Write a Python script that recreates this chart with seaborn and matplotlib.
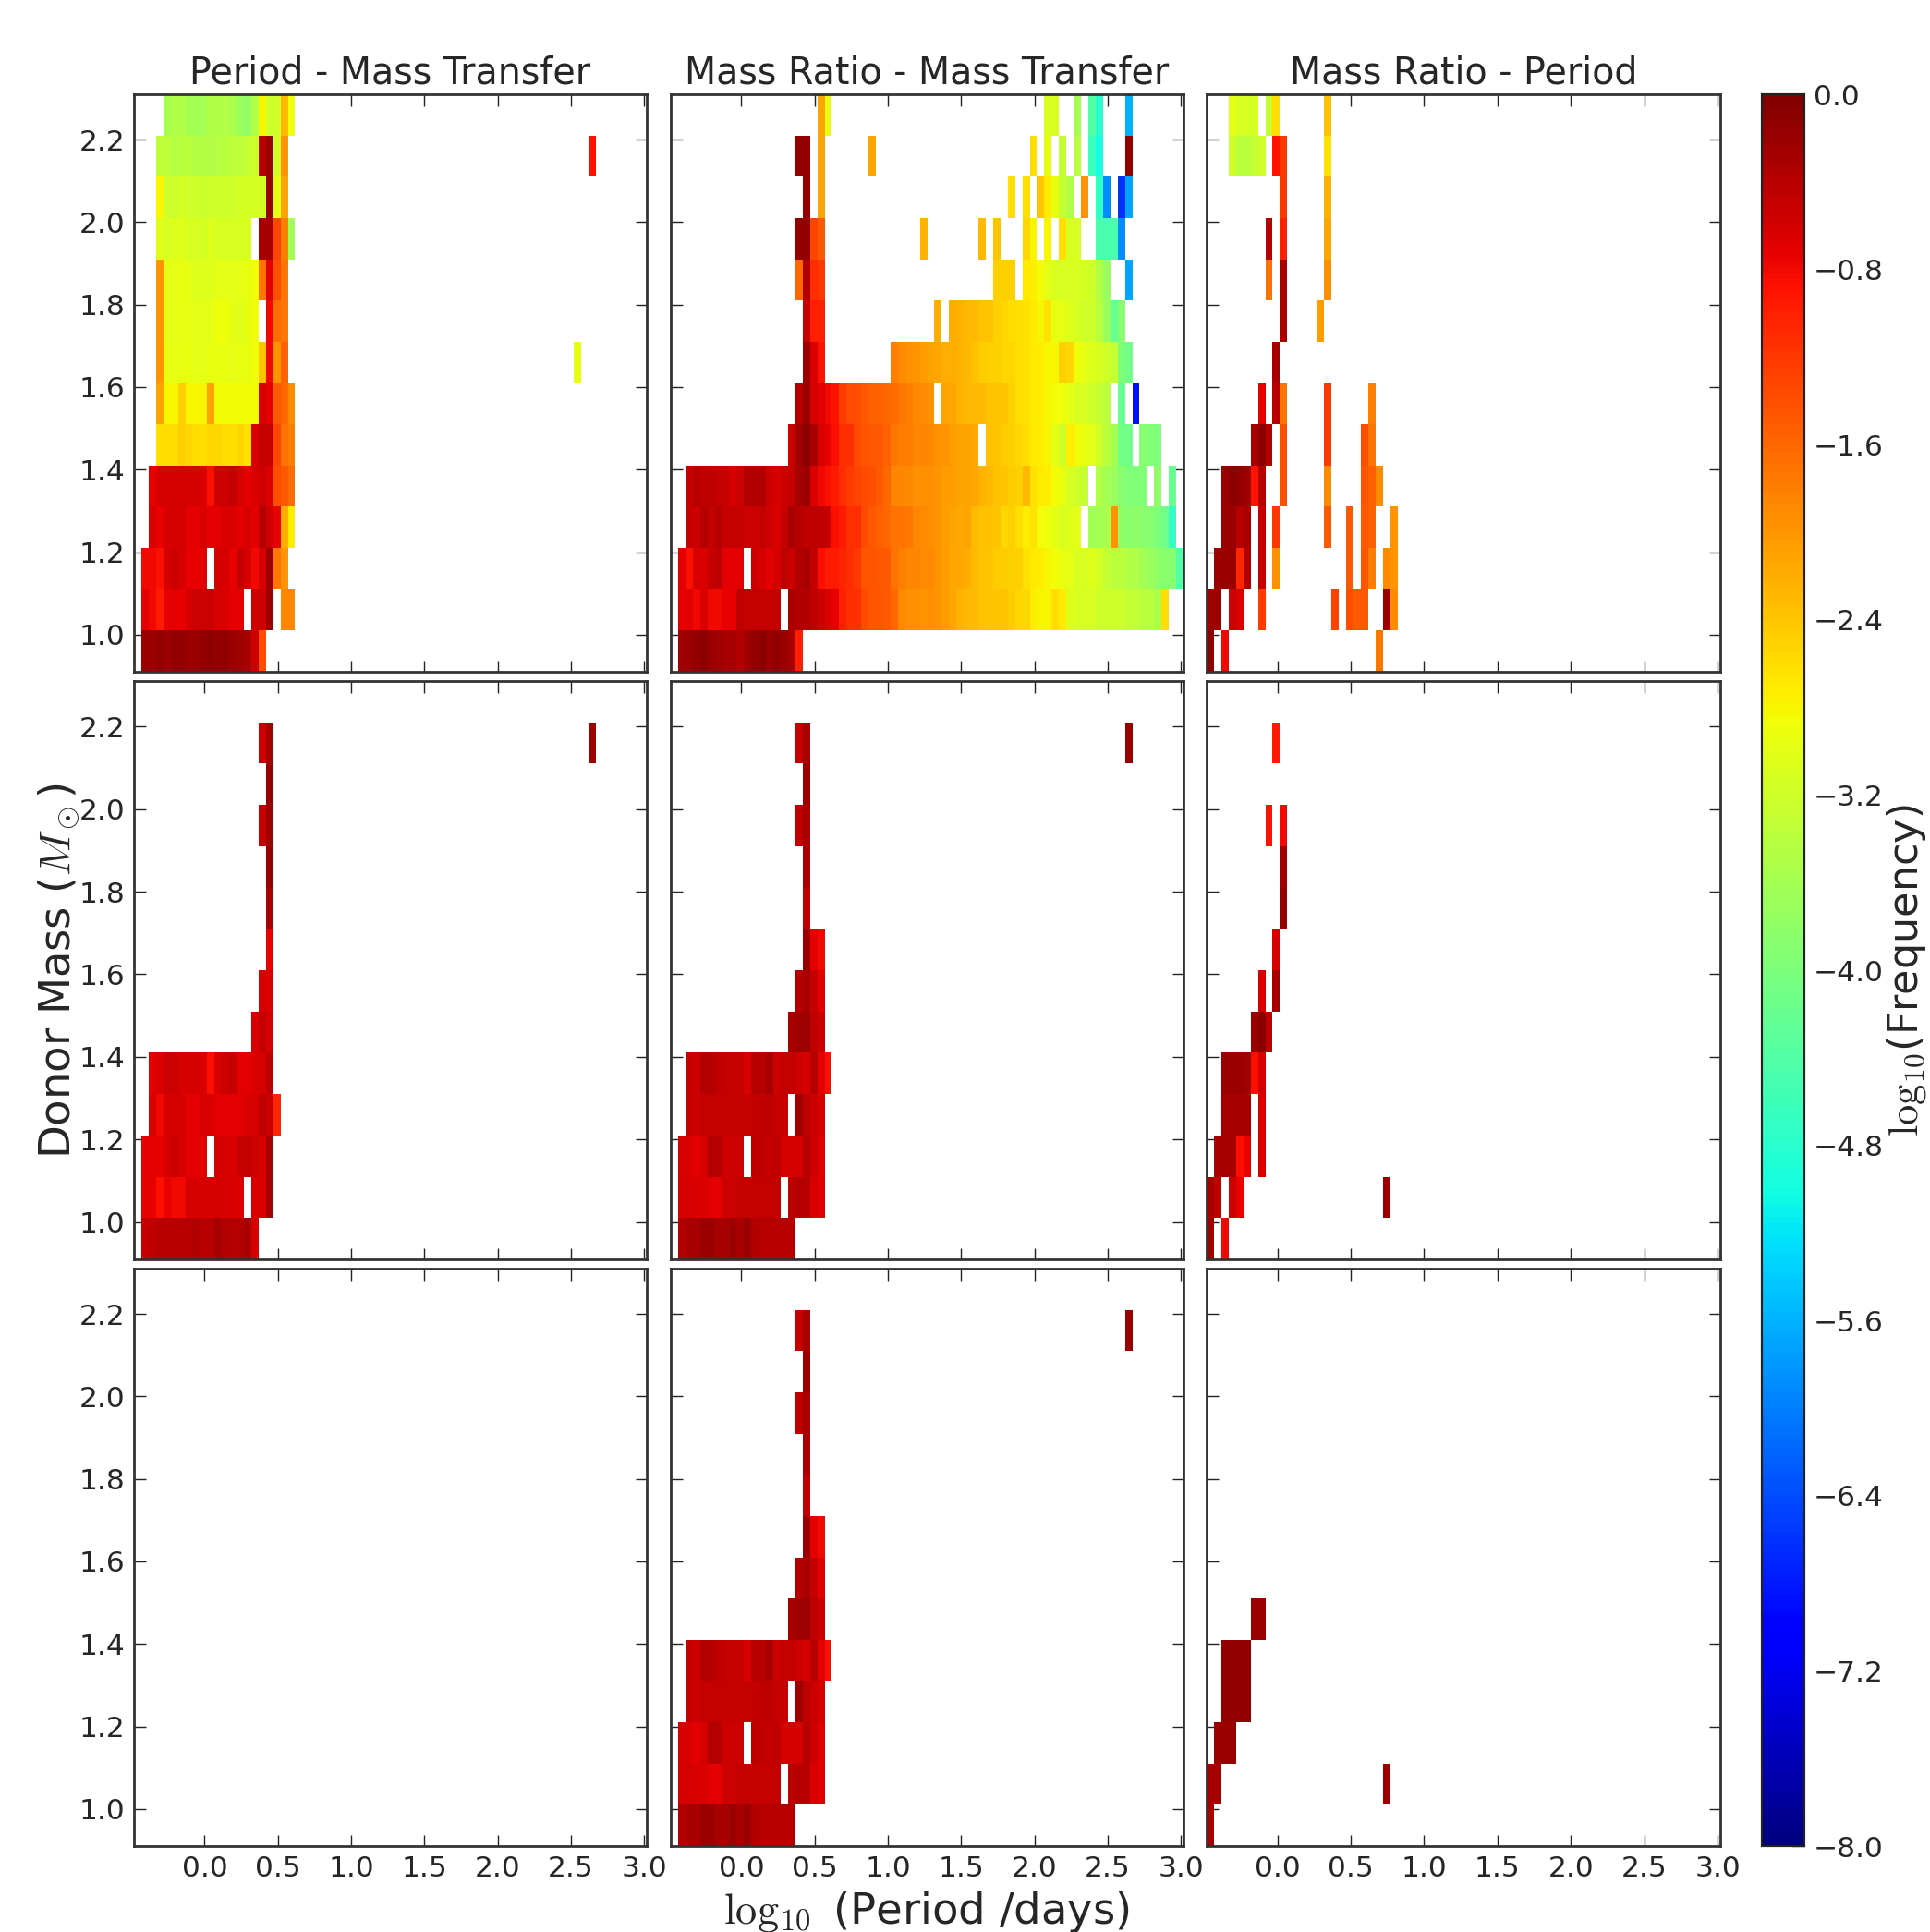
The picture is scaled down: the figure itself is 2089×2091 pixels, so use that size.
import numpy as np
import matplotlib
matplotlib.use('Agg')
import matplotlib.pyplot as plt
import seaborn as sns

# log10 frequency per bin, rows go bottom to top, each row is (first period bin, values)
titles = ['Period - Mass Transfer', 'Mass Ratio - Mass Transfer', 'Mass Ratio - Period']
period_ticks = [0.0, 0.5, 1.0, 1.5, 2.0, 2.5, 3.0]
mass_ticks = [1.0, 1.2, 1.4, 1.6, 1.8, 2.0, 2.2]
cbar_ticks = [0.0, -0.8, -1.6, -2.4, -3.2, -4.0, -4.8, -5.6, -6.4, -7.2, -8.0]
period_start = -0.482
period_step = 0.05
mass_start = 0.91
mass_step = 0.1

period_mt_top = [
    [(1, [-0.2, -0.2, -0.15, -0.2, -0.15, -0.15, -0.2, -0.2, -0.15, -0.1, -0.15, -0.15, -0.2, -0.25, -0.3, -0.55, -1.4])],
    [(1, [-0.7, -0.8, -0.95, -0.7, -0.7, -0.75, -0.6, -0.55, -0.55, -0.55, -0.6, -0.65, -0.7, -0.7, None, -0.55, -0.55, -0.25]), (20, [-1.85, -1.85])],
    [(1, [-0.8, -0.8, -0.85, -0.6, -0.55, -0.6, -0.75, -0.75, -0.7, None, -0.6, -0.6, -0.75, -0.5, -0.6, -0.8, -0.6, -0.2, -1.75, -2.0])],
    [(2, [-0.65, -0.75, -0.6, -0.6, -0.6, -0.7, -0.7, -0.65, -0.7, -0.7, -0.65, -0.65, -0.7, -0.6, -0.7, -0.4, -0.55, -0.75, -2.2, -2.75])],
    [(2, [-0.75, -0.6, -0.6, -0.6, -0.6, -0.6, -0.6, -0.65, -0.85, -0.55, -0.55, -0.5, -0.6, -0.7, -0.65, -0.55, -0.65, -1.4, -1.5, -1.65])],
    [(3, [-2.6, -2.6, -2.6, -2.5, -2.55, -2.6, -2.6, -2.55, -2.55, -2.6, -2.6, -2.55, -2.65, -0.6, -0.5, -0.5, -1.3, -1.7, -1.8])],
    [(3, [-2.1, -2.8, -2.8, -2.5, -2.8, -2.8, -2.8, -2.1, -2.85, -2.85, -2.85, -2.85, -2.85, -2.85, -0.6, -0.7, -1.5, -1.6, -1.9])],
    [(3, [-2.0, -2.95, -3.0, -2.95, -2.95, -3.0, -3.0, -2.95, -2.95, -2.95, -3.0, -2.95, -2.95, -2.9, -2.4, -0.8, -2.0, -1.55]), (60, [-2.95])],
    [(3, [-2.0, -3.0, -3.0, -2.95, -3.0, -3.0, -3.0, -3.0, -2.9, -2.9, -3.0, -3.05, -2.95, -2.9, None, -0.8, -1.65, -1.75])],
    [(3, [-2.0, -3.0, -3.0, -2.95, -3.0, -3.05, -3.05, -3.05, -3.0, -3.0, -3.0, -3.0, -2.95, -2.9, -1.7, -0.7, -1.4, -1.75])],
    [(3, [-3.05, -3.1, -3.05, -3.05, -3.1, -3.1, -3.15, -3.05, -3.1, -3.1, -3.1, -3.1, -3.1, None, -0.3, -0.3, -1.3, -1.8, -3.6])],
    [(3, [-2.8, -3.2, -3.25, -3.15, -3.2, -3.2, -3.25, -3.2, -3.2, -3.2, -3.2, -3.15, -3.15, -3.15, -3.15, -0.2, -3.0, -2.1])],
    [(3, [-3.35, -3.35, -3.45, -3.4, -3.4, -3.45, -3.45, -3.5, -3.45, -3.4, -3.35, -3.35, -3.3, -3.25, -0.4, -0.2, -3.2, -2.0]), (62, [-0.9])],
    [(4, [-3.6, -3.5, -3.5, -3.6, -3.6, -3.6, -3.5, -3.5, -3.5, -3.55, -3.7, -3.8, -3.5, -2.8, -3.2, -3.2, -2.3, -2.9])],
]

period_mt_mid = [
    [(1, [-0.5, -0.45, -0.4, -0.4, -0.4, -0.4, -0.4, -0.35, -0.4, -0.4, -0.3, -0.35, -0.4, -0.35, -0.3, -0.6])],
    [(1, [-0.7, -0.75, -0.85, -0.75, -0.8, -0.8, -0.6, -0.6, -0.6, -0.6, -0.6, -0.6, -0.65, -0.65, None, -0.65, -0.65, -0.3])],
    [(1, [-0.7, -0.7, -0.75, -0.6, -0.55, -0.6, -0.7, -0.7, -0.7, None, -0.6, -0.6, -0.65, -0.5, -0.5, -0.55, -0.6, -0.3])],
    [(2, [-0.65, -0.8, -0.6, -0.6, -0.6, -0.7, -0.7, -0.6, -0.65, -0.7, -0.7, -0.7, -0.7, -0.65, -0.6, -0.45, -0.55, -1.05])],
    [(2, [-0.7, -0.65, -0.55, -0.55, -0.6, -0.6, -0.6, -0.65, -0.85, -0.6, -0.55, -0.5, -0.7, -0.7, -0.65, -0.6, -0.45])],
    [(16, [-0.6, -0.5, -0.6])],
    [(17, [-0.6, -0.65])],
    [(18, [-0.75])],
    [(18, [-0.3])],
    [(18, [-0.2])],
    [(17, [-0.5, -0.25])],
    [(18, [-0.2])],
    [(17, [-0.55, -0.3]), (62, [-0.25])],
    [],
]

period_mt_bot = [[] for row in range(14)]

ratio_mt_top = [
    [(1, [-0.25, -0.2, -0.15, -0.1, -0.2, -0.25, -0.3, -0.3, -0.35, -0.25, -0.15, -0.1, -0.2, -0.15, -0.2, -0.3, -1.0])],
    [(1, [-0.7, -0.7, -0.8, -0.65, -0.8, -0.8, -0.75, -0.75, -0.45, -0.5, -0.5, -0.5, -0.5, -0.5, None, -0.3, -0.35, -0.35, -0.45, -0.55, -0.65, -0.75, -1.0, -1.1, -1.15, -1.35, -1.45, -1.45, -1.5, -1.6, -1.9, -1.95, -1.95, -2.0, -1.95, -2.0, -2.05, -2.15, -2.25, -2.3, -2.3, -2.35, -2.4, -2.4, -2.4, -2.45, -2.55, -2.55, -2.75, -2.8, -2.8, -2.6, -2.7, -3.05, -3.1, -3.1, -3.1, -3.2, -3.2, -3.2, -3.2, -3.3, -3.3, -3.4, -3.4, -3.55, -2.6])],
    [(1, [-0.7, -0.85, -0.6, -0.65, -0.5, -0.45, -0.7, -0.7, -0.7, None, -0.55, -0.6, -0.7, -0.6, -0.45, -0.55, -0.35, -0.3, -0.5, -0.85, -0.95, -0.95, -1.05, -1.1, -1.2, -1.45, -1.45, -1.5, -1.5, -1.7, -1.8, -1.85, -1.85, -1.9, -1.9, -2.0, -2.05, -2.15, -2.15, -2.2, -2.3, -2.35, -2.4, -2.45, -2.45, -2.5, -2.5, -2.65, -2.7, -2.75, -2.8, -2.85, -2.95, -3.0, -3.1, -3.1, -3.05, -3.15, -3.3, -3.4, -3.4, -3.5, -3.5, -3.6, -3.7, -3.8, -3.85, -3.9, -4.4])],
    [(2, [-0.5, -0.55, -0.4, -0.5, -0.4, -0.5, -0.5, -0.5, -0.55, -0.55, -0.5, -0.55, -0.65, -0.5, -0.3, -0.4, -0.45, -0.45, -0.45, -0.5, -0.85, -0.95, -1.15, -1.1, -1.35, -1.5, -1.55, -1.6, -1.7, -1.7, -1.75, -1.85, -1.9, -1.95, -2.0, -2.05, -2.1, -2.15, -2.1, -2.3, -2.35, -2.35, -2.4, -2.55, -2.5, -2.6, -2.75, -2.65, -2.85, -2.9, -3.0, -3.1, -3.05, -3.0, None, -3.6, -3.6, -3.55, -2.0, -3.8, -3.85, -3.8, -3.85, -3.9, -4.0, -4.1, -4.7])],
    [(2, [-0.5, -0.4, -0.45, -0.45, -0.5, -0.5, -0.6, -0.55, -0.35, -0.35, -0.35, -0.55, -0.6, -0.55, -0.5, -0.3, -0.2, -0.65, -0.8, -0.85, -0.95, -1.1, -1.25, -1.3, -1.35, -1.4, -1.5, -1.6, -1.85, -1.85, -1.9, -1.95, -1.95, -1.95, -2.0, -2.05, -2.05, -2.1, -2.1, -2.15, -2.25, -2.3, -2.35, -2.4, -2.45, -2.5, -2.3, -2.65, -2.7, -2.75, -2.85, -2.95, -3.1, -3.2, -3.3, None, -3.5, -3.6, -3.7, -3.9, -3.95, -4.0, -3.95, None, -3.8, None, -4.2])],
    [(16, [-0.55, -0.25, -0.1, -0.3, -0.6, -0.75, -0.85, -1.1, -1.15, -1.35, -1.45, -1.5, -1.5, -1.55, -1.75, -1.8, -1.8, -1.85, -1.85, -1.9, -1.95, -2.0, -2.05, -2.1, -2.1, -2.15, None, -2.35, -2.4, -2.45, -2.5, -2.55, -2.6, -2.7, -2.75, -2.8, -3.0, -3.2, -2.75, -2.85, -2.95, -3.0, -3.2, -3.4, -3.6, -4.1, -4.1, None, -3.9, -3.95, -4.0])],
    [(17, [-0.4, -0.2, -0.6, -0.7, -0.8, -0.9, -1.25, -1.35, -1.4, -1.5, -1.55, -1.55, -1.6, -1.65, -1.75, -1.8, -1.9, -1.9, -1.95, None, -2.1, -2.15, -2.25, -2.3, -2.3, -2.3, -2.35, -2.4, -2.4, -2.5, -2.6, -2.65, -2.7, -2.75, -2.8, -2.85, -2.9, -3.0, -3.1, -3.1, -3.2, -3.3, -3.4, None, -4.2, None, -6.9])],
    [(18, [-0.2, -0.65, -0.9]), (30, [-1.8, -1.9, -1.95, -2.0, -2.05, -2.1, -2.15, -2.2, -2.2, -2.25, -2.3, -2.35, -2.45, -2.5, -2.5, -2.55, -2.55, -2.6, -2.65, -2.7, -2.75, -2.8, -2.8, -2.5, -2.55, -2.9, -3.0, -3.05, -3.1, -3.2, -3.3, -4.0, -4.1])],
    [(18, [-0.5, -1.0, -1.0]), (36, [-2.2]), (38, [-2.2, -2.25, -2.3, -2.3, -2.35, -2.4, -2.5, -2.55, -2.6, -2.6, -2.65, -2.7, -2.8, -2.65, -2.95, -3.0, -3.05, -3.1, -3.2, -3.2, -3.4, -3.7, -4.2, -3.9])],
    [(17, [-1.6, -0.35, -1.1, -1.2]), (44, [-2.5, -2.5, -2.5, None, -2.7, -2.75, -2.85, -3.0, -3.1, -3.1, -3.1, -3.1, -3.15, -3.2, -3.45, -3.7]), (62, [-5.7])],
    [(17, [-0.15, -0.15, -1.3, -1.5]), (34, [-2.25]), (42, [-2.3]), (44, [-2.4]), (48, [-2.55, -2.8]), (51, [-2.8]), (53, [-2.6, -3.1, -3.1]), (58, [-4.5, -4.5, -4.5, -5.9])],
    [(18, [-0.15]), (20, [-2.1]), (46, [-2.6]), (48, [-2.6]), (50, [-2.4, -2.7, -2.95, -3.3, -3.5]), (56, [-2.0]), (58, [-4.7, -5.9]), (61, [-6.6, -5.7])],
    [(17, [-0.15, -0.15]), (20, [-2.1]), (27, [-2.15]), (49, [-2.6]), (51, [-3.0]), (53, [-3.3]), (55, [-3.4]), (57, [-4.6, -5.0]), (62, [-0.15])],
    [(20, [-2.1, -2.95]), (51, [-3.1, -3.1]), (55, [-3.6]), (57, [-4.4, -4.8]), (62, [-5.6])],
]

ratio_mt_mid = [
    [(1, [-0.35, -0.3, -0.3, -0.2, -0.2, -0.3, -0.3, -0.2, -0.3, -0.2, -0.35, -0.4, -0.4, -0.4, -0.4, -0.4])],
    [(1, [-0.6, -0.6, -0.65, -0.65, -0.7, -0.7, -0.55, -0.55, -0.5, -0.5, -0.5, -0.5, -0.5, -0.5, None, -0.45, -0.4, -0.4, -0.65, -0.7])],
    [(1, [-0.6, -0.65, -0.7, -0.6, -0.35, -0.4, -0.55, -0.55, -0.55, None, -0.45, -0.45, -0.5, -0.45, -0.6, -0.6, -0.6, -0.4, -0.55, -0.7])],
    [(2, [-0.5, -0.55, -0.5, -0.5, -0.5, -0.5, -0.5, -0.5, -0.5, -0.5, -0.45, -0.45, -0.5, -0.5, None, -0.25, -0.45, -0.55, -0.65])],
    [(2, [-0.5, -0.55, -0.35, -0.4, -0.45, -0.5, -0.5, -0.5, -0.65, -0.4, -0.4, -0.3, -0.55, -0.5, -0.5, -0.55, -0.6, -0.4, -0.7, -0.85])],
    [(16, [-0.3, -0.25, -0.25, -0.45, -0.55])],
    [(17, [-0.4, -0.3, -0.5, -0.7])],
    [(18, [-0.2, -0.7, -0.8])],
    [(18, [-0.45])],
    [(18, [-0.3])],
    [(17, [-0.45, -0.3])],
    [(18, [-0.2])],
    [(17, [-0.5, -0.3]), (62, [-0.2])],
    [],
]

ratio_mt_bot = ratio_mt_mid

ratio_period_top = [
    [(0, [-0.1]), (2, [-0.8]), (23, [-1.75])],
    [(0, [-0.25, -0.25]), (3, [-0.55, -0.65]), (7, [-1.25]), (17, [-1.3]), (19, [-1.4, -1.5, -1.5]), (24, [-0.2, -1.9])],
    [(1, [-0.2, -0.2, -0.2, -1.05, -0.35]), (7, [-0.5]), (9, [-1.95]), (19, [-1.5]), (21, [-1.45, -1.8]), (24, [-1.9, -2.0])],
    [(2, [-0.2, -0.2, -0.4, -0.3]), (7, [-0.5]), (9, [-1.2]), (16, [-1.5]), (19, [-1.5]), (21, [-1.5, -1.55]), (25, [-2.0])],
    [(2, [-0.2, -0.1, -0.15, -0.25, -0.9, -0.4]), (10, [-1.4]), (16, [-1.9]), (21, [-1.45, -1.55, -1.9])],
    [(6, [-0.3, -0.1, -0.4]), (10, [-1.4]), (16, [-1.2]), (21, [-1.4, -1.7])],
    [(7, [-0.7]), (9, [-0.4, -1.7]), (16, [-1.2]), (22, [-1.8])],
    [(9, [-0.3])],
    [(10, [-0.3]), (15, [-2.05])],
    [(8, [-1.7]), (10, [-0.3]), (16, [-1.95])],
    [(8, [-0.4]), (10, [-1.0]), (16, [-2.15])],
    [(10, [-1.2]), (16, [-2.25])],
    [(3, [-3.2, -3.4, -3.4, -3.3, -3.2]), (9, [-0.9, -1.2]), (16, [-2.6])],
    [(3, [-3.0, -3.1, -3.1, -3.15]), (8, [-3.3, -2.6]), (16, [-2.35])],
]

ratio_period_mid = [
    [(0, [-0.25]), (2, [-0.8])],
    [(0, [-0.3, -0.45]), (3, [-0.55, -0.75]), (24, [-0.2])],
    [(1, [-0.3, -0.3, -0.3, -0.85, -0.75]), (7, [-0.6])],
    [(2, [-0.3, -0.3, -0.3, -0.3]), (7, [-0.6])],
    [(2, [-0.2, -0.2, -0.2, -0.25, -0.85, -0.6])],
    [(6, [-0.2, -0.1, -0.45])],
    [(7, [-0.6]), (9, [-0.3])],
    [(9, [-0.6])],
    [(10, [-0.15])],
    [(10, [-0.25])],
    [(8, [-0.9]), (10, [-0.8])],
    [],
    [(9, [-0.95])],
    [],
]

ratio_period_bot = [
    [(0, [-0.3])],
    [(0, [-0.3, -0.3]), (24, [-0.2])],
    [(1, [-0.2, -0.2, -0.2])],
    [(2, [-0.15, -0.15, -0.15, -0.15])],
    [(2, [-0.15, -0.15, -0.15, -0.15])],
    [(6, [-0.2, -0.2])],
    [], [], [], [], [], [], [], [],
]

panels = [period_mt_top, ratio_mt_top, ratio_period_top,
          period_mt_mid, ratio_mt_mid, ratio_period_mid,
          period_mt_bot, ratio_mt_bot, ratio_period_bot]


def to_grid(rows):
    grid = np.full((14, 70), np.nan)
    for r, row in enumerate(rows):
        for first, vals in row:
            grid[r, first:first + len(vals)] = np.array(vals, dtype=float)
    return grid


sns.set_style('white')
plt.rcParams['font.family'] = ['DejaVu Sans']
plt.rcParams['mathtext.fontset'] = 'cm'

W, H = 2089, 2091
fig = plt.figure(figsize=(W / 100, H / 100), dpi=100, facecolor='white')

col_px = [(145, 700), (726, 1281), (1306, 1862)]
row_px = [(102, 727), (737, 1363), (1373, 1998)]
cax = fig.add_axes([1907 / W, 1 - 1998 / H, 46 / W, (1998 - 102) / H])

for i, rows in enumerate(panels):
    r, c = i // 3, i % 3
    x0, x1 = col_px[c]
    y0, y1 = row_px[r]
    ax = fig.add_axes([x0 / W, 1 - y1 / H, (x1 - x0) / W, (y1 - y0) / H])
    grid = to_grid(rows)
    sns.heatmap(grid, ax=ax, cmap='jet', vmin=-8, vmax=0, xticklabels=False, yticklabels=False,
                cbar=i == 0, cbar_ax=cax if i == 0 else None,
                cbar_kws={'ticks': cbar_ticks} if i == 0 else None)
    ax.set_ylim(0, 14)
    ax.set_xlim(0, 70)
    ax.set_xticks([(t - period_start) / period_step for t in period_ticks])
    ax.set_yticks([(t - mass_start) / mass_step for t in mass_ticks])
    ax.set_xticklabels([f'{t:.1f}' for t in period_ticks] if r == 2 else [])
    ax.set_yticklabels([f'{t:.1f}' for t in mass_ticks] if c == 0 else [])
    ax.tick_params(direction='in', top=True, right=True, bottom=True, left=True,
                   length=9, width=1, labelsize=22.5, color='#222222', pad=7)
    for sp in ax.spines.values():
        sp.set_visible(True)
        sp.set_linewidth(2)
        sp.set_color('#333333')
    if r == 0:
        ax.set_title(titles[c], fontsize=28.5, pad=8)

cax.tick_params(direction='in', right=True, left=False, length=10, width=1, labelsize=22.5,
                color='#222222', pad=7)
cax.set_yticklabels(['0.0'] + [f'\u2212{abs(t):.1f}' for t in cbar_ticks[1:]])
for sp in cax.spines.values():
    sp.set_visible(True)
    sp.set_linewidth(1.5)
    sp.set_color('#222222')

fig.text(64 / W, 1 - 1050 / H, r'Donor Mass ($M_\odot$)', rotation=90, fontsize=33.5, ha='center', va='center')
fig.text(1003 / W, 1 - 2069 / H, r'$\log_{10}$ (Period /days)', fontsize=33.5, ha='center', va='center')
fig.text(2087 / W, 1 - 1050 / H, r'$\log_{10}\!$(Frequency)', rotation=90, fontsize=32, ha='right', va='center')

fig.savefig('out.png', dpi=100)
